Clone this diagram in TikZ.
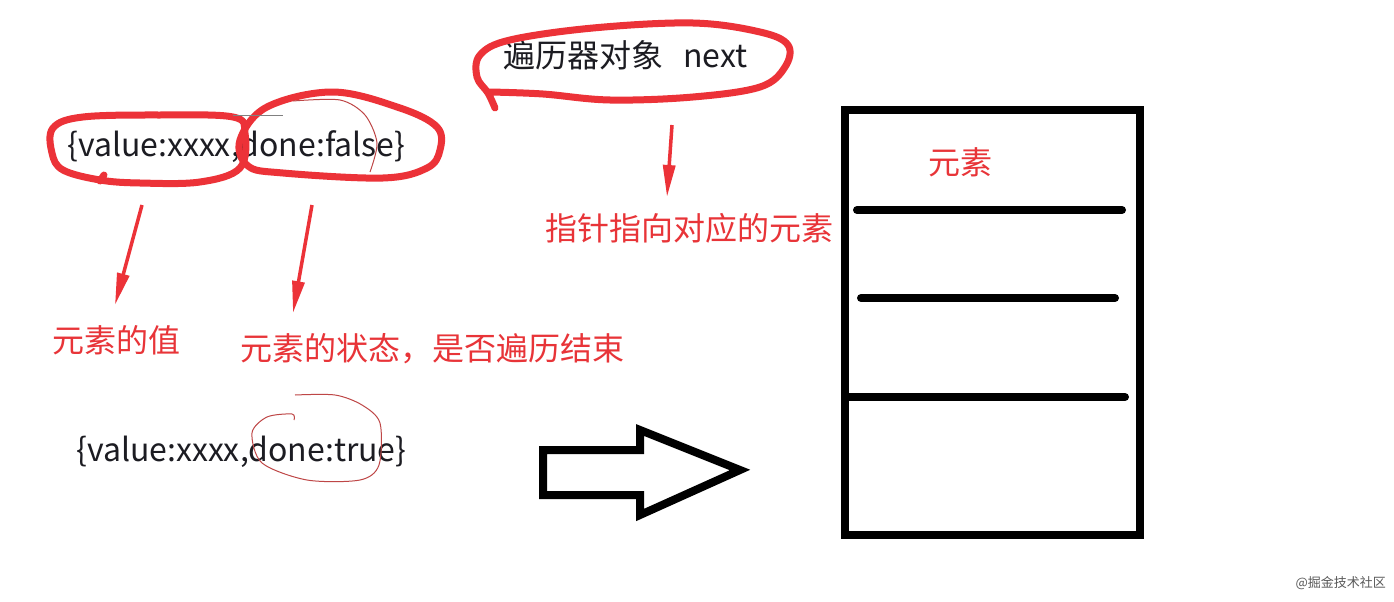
\documentclass[tikz,border=0pt]{standalone}
\usepackage{fontspec}
\setmainfont{Noto Sans CJK SC}
\usetikzlibrary{arrows.meta}
\definecolor{hred}{RGB}{236,50,56}
\definecolor{tred}{RGB}{232,52,56}
\definecolor{ink}{RGB}{28,28,34}
\definecolor{thinred}{RGB}{190,70,70}
\begin{document}
\begin{tikzpicture}[x=1pt,y=-1pt,
  loopline/.style={draw=hred,line width=7pt,line cap=round,line join=round},
  thinline/.style={draw=thinred,line width=1pt},
  redarrow/.style={draw=hred,line width=3.5pt,-{Triangle[length=32pt,width=12pt]}},
  blk/.style={font=\fontsize{32}{38}\selectfont,text=ink,inner sep=0pt,anchor=west},
  rlab/.style={font=\fontsize{32}{38}\selectfont,text=tred,inner sep=0pt,anchor=west},
  heavy/.style={draw=black,line width=8pt}]
\useasboundingbox[fill=white] (0,0) rectangle (1394,602);

% texts
\node[blk] (obj1) at (67,147) {\{value:xxxx,done:false\}};
\node[blk] (obj2) at (76,452) {\{value:xxxx,done:true\}};
\node[blk] (iter) at (503,55) {遍历器对象\hspace{20pt}next};
\node[rlab] (val) at (52,340) {元素的值};
\node[rlab] (state) at (240,349) {元素的状态，是否遍历结束};
\node[rlab] (ptr) at (545,228) {指针指向对应的元素};
\node[rlab] (elem) at (928,162) {元素};
\node[font=\fontsize{13}{15}\selectfont,text=gray!70!black,anchor=east,inner sep=0pt] (wm) at (1386,583) {@掘金技术社区};

% red loops
\draw[loopline] plot[smooth cycle,tension=0.6] coordinates {(53,128) (83,117) (160,115) (233,117) (245,133) (240,168) (200,182) (140,183) (100,180) (63,170) (52,153)};
\draw[loopline] (100,181) -- (104,175);
\draw[loopline] plot[smooth cycle,tension=0.6] coordinates {(240,140) (267,107) (333,92) (400,108) (437,127) (440,150) (427,168) (383,178) (283,173) (248,166)};
\draw[loopline] plot[smooth,tension=0.6] coordinates {(495,108) (488,93) (477,77) (480,55) (510,40) (593,28) (693,23) (760,32) (788,45) (785,67) (760,87) (693,97) (610,100) (543,94) (490,92)};

% thin strokes
\draw[draw=gray,line width=1pt] (233,115) -- (283,115);
\draw[thinline] plot[smooth] coordinates {(293,101) (340,100) (365,115) (377,143) (370,172)};
\draw[thinline] plot[smooth] coordinates {(295,395) (335,395) (362,405) (380,423) (379,465) (360,480) (307,480) (262,463) (252,433) (267,417) (292,414) (294,420)};

% red arrows
\coordinate (a1s) at (142,205); \coordinate (a1e) at (115,305);
\coordinate (a2s) at (312,205); \coordinate (a2e) at (293,313);
\coordinate (a3s) at (672,125); \coordinate (a3e) at (667,197);
\draw[redarrow] (a1s) -- (a1e);
\draw[redarrow] (a2s) -- (a2e);
\draw[redarrow] (a3s) -- (a3e);

% hollow arrow
\draw[heavy,line join=miter] (543,450) -- (640,450) -- (640,430) -- (740,470) -- (640,515) -- (640,495) -- (543,495) -- cycle;

% box
\node[heavy,draw,inner sep=0pt,minimum width=295pt,minimum height=425pt] (box) at (992.5,322.5) {};
\draw[heavy,line cap=round] (857,210) -- (1122,210);
\draw[heavy,line cap=round] (861,298) -- (1115,298);
\draw[heavy,line cap=round] (845,397) -- (1125,397);
\end{tikzpicture}
\end{document}
